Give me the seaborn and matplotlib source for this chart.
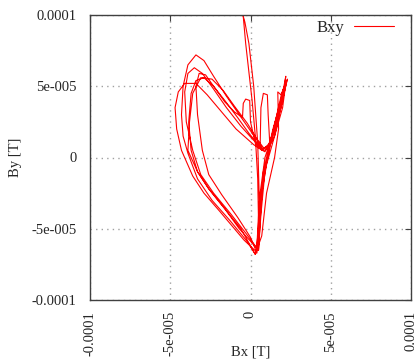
import numpy as np
import pandas as pd
import matplotlib
matplotlib.use("Agg")
import matplotlib.pyplot as plt
import seaborn as sns

# ============================
# DATA (values in units of 1e-5 T)
# ============================
bx_start = [-0.5, -0.3, -0.1, 0.1, 0.3, 0.45, 0.5, 0.45, 0.3]
by_start = [10.5, 8.0, 6.0, 4.0, 1.5, -1.5, -4.5, -6.3, -6.8]

bx_loop1 = [-0.2, -1.3, -2.4, -3.3, -3.9, -4.2, -4.3, -4.2, -3.9, -3.4, -2.9, -2.3, -1.5, -0.7,
            0.1, 0.6, 0.8, 1.1, 1.5, 2.0, 2.2, 2.0, 1.5, 0.9, 0.6, 0.5, 0.35]
by_loop1 = [-5.9, -4.4, -3.0, -1.5, 0.3, 1.5, 3.0, 5.0, 6.5, 7.2, 6.8, 5.7, 4.3, 3.0,
            1.7, 0.9, 0.5, 0.6, 1.8, 4.0, 5.7, 4.5, 2.0, 0.0, -2.5, -5.0, -6.6]

bx_loop2 = [-0.4, -1.9, -2.9, -3.6, -4.3, -4.6, -4.7, -4.5, -4.1, -3.4, -2.7, -1.8, -0.9, 0.2,
            0.6, 0.9, 1.3, 1.9, 2.25, 2.0, 1.4, 0.8, 0.6, 0.5]
by_loop2 = [-5.8, -3.8, -2.5, -1.3, 0.5, 2.0, 3.5, 4.6, 5.2, 5.2, 4.4, 3.2, 2.0, 0.9,
            0.6, 0.4, 1.3, 3.5, 5.3, 4.4, 2.0, -1.0, -4.5, -6.5]

bx_loop3 = [-0.3, -1.2, -2.3, -3.1, -3.6, -4.0, -4.1, -3.9, -3.5, -3.0, -2.3, -1.5, -0.6, 0.2,
            0.6, 0.65, 0.8, 1.05, 1.1, 1.2, 1.6, 2.1, 2.3, 2.1, 1.5, 1.0, 0.7, 0.55, 0.4]
by_loop3 = [-5.3, -4.0, -2.5, -1.2, 0.5, 2.5, 4.6, 5.9, 6.3, 5.9, 4.8, 3.5, 2.2, 1.2,
            0.8, 3.5, 4.5, 4.4, 3.0, 1.0, 2.5, 4.8, 5.5, 4.6, 1.5, -0.5, -2.5, -5.0, -6.7]

bx_loop4 = [0.0, -0.8, -1.8, -2.6, -3.0, -3.3, -3.4, -3.2, -2.8, -2.3, -1.6, -1.0, -0.5, -0.45,
            -0.3, -0.05, 0.0, 0.3, 0.7, 1.2, 1.8, 2.1, 1.9, 1.4, 0.9, 0.65, 0.5]
by_loop4 = [-5.6, -4.2, -2.6, -1.2, 0.5, 3.0, 5.0, 5.9, 5.8, 5.0, 3.9, 3.2, 2.8, 3.8,
            4.1, 4.0, 2.5, 1.0, 0.5, 1.0, 3.6, 5.0, 4.3, 1.8, -1.0, -4.0, -6.5]

bx_loop5 = [-0.7, -1.6, -2.6, -3.3, -3.9, -3.8, -3.6, -3.1, -2.4, -1.7, -1.0, -0.2, 0.4, 0.8,
            1.1, 1.5, 2.0, 2.2, 1.9, 1.7, 1.75, 1.5, 1.0, 0.7, 0.3]
by_loop5 = [-5.0, -3.6, -2.2, -1.0, 0.5, 2.5, 4.5, 5.6, 5.5, 4.7, 3.6, 2.4, 1.3, 0.7,
            0.6, 1.5, 3.5, 5.2, 4.4, 4.6, 2.0, 0.0, -2.5, -5.5, -6.8]

bx_loop6 = [-0.6, -1.6, -2.6, -3.3, -3.7, -3.85, -3.7, -3.4, -2.9, -2.3, -1.6, -0.8, -0.1, 0.5,
            0.7, 1.1, 1.5, 2.0, 2.2, 1.8, 1.2, 0.7, 0.55, 0.4]
by_loop6 = [-5.0, -3.6, -2.2, -1.0, 0.5, 2.5, 4.5, 5.4, 5.6, 5.0, 4.0, 2.8, 1.7, 0.9,
            0.6, 0.8, 2.0, 4.3, 5.4, 3.5, 0.8, -2.0, -4.5, -6.2]

bx_end = [0.55, 0.45, 0.2, -0.1, -0.35, -0.6]
by_end = [-3.0, 1.0, 5.0, 8.0, 9.5, 10.5]

bx = (bx_start + bx_loop1 + bx_loop2 + bx_loop3 + bx_loop4 + bx_loop5 + bx_loop6 + bx_end)
by = (by_start + by_loop1 + by_loop2 + by_loop3 + by_loop4 + by_loop5 + by_loop6 + by_end)

df = pd.DataFrame({"Bx": np.array(bx) * 1e-5, "By": np.array(by) * 1e-5})

ticks = [-1e-4, -5e-5, 0, 5e-5, 1e-4]
tick_labels = ["-0.0001", "-5e-005", "0", "5e-005", "0.0001"]

# ============================
# PLOT
# ============================
sns.set_style("white")
plt.rcParams["font.family"] = ["Liberation Serif", "DejaVu Serif"]

fig = plt.figure(figsize=(4.16, 3.6), dpi=100)
ax = fig.add_axes([90 / 416, 1 - 300 / 360, 321 / 416, 285 / 360])

sns.lineplot(data=df, x="Bx", y="By", sort=False, estimator=None,
             color="#ff0000", linewidth=0.8, label="Bxy", ax=ax)

ax.set_xlim(-1e-4, 1e-4)
ax.set_ylim(-1e-4, 1e-4)
ax.set_xticks(ticks)
ax.set_yticks(ticks)
ax.set_xticklabels(tick_labels, rotation=90, fontsize=10.5)
ax.set_yticklabels(tick_labels, fontsize=10.5)
ax.tick_params(axis="x", direction="in", length=4, width=0.8, color="#404040",
               top=True, pad=8)
ax.tick_params(axis="y", direction="in", length=4, width=0.8, color="#404040",
               right=True, pad=9.5)
ax.grid(True, linestyle=(0, (1, 3)), color="#a0a0a0", linewidth=1)
for s in ax.spines.values():
    s.set_color("#404040")
    s.set_linewidth(1)

ax.set_xlabel("Bx [T]", fontsize=10.5)
ax.xaxis.set_label_coords(0.5, -(352 - 300) / 285)
ax.xaxis.label.set_va("center")
ax.set_ylabel("By [T]", fontsize=10.5)
ax.yaxis.set_label_coords(-(90 - 15) / 321, 0.5)
ax.yaxis.label.set_va("center")

ax.legend(loc="upper right", frameon=False, fontsize=12, markerfirst=False,
          handlelength=2.4, handletextpad=0.6, borderpad=0, borderaxespad=0,
          bbox_to_anchor=((394 - 90) / 321, 1 - (20 - 15) / 285))

fig.savefig("out.png", dpi=100)
